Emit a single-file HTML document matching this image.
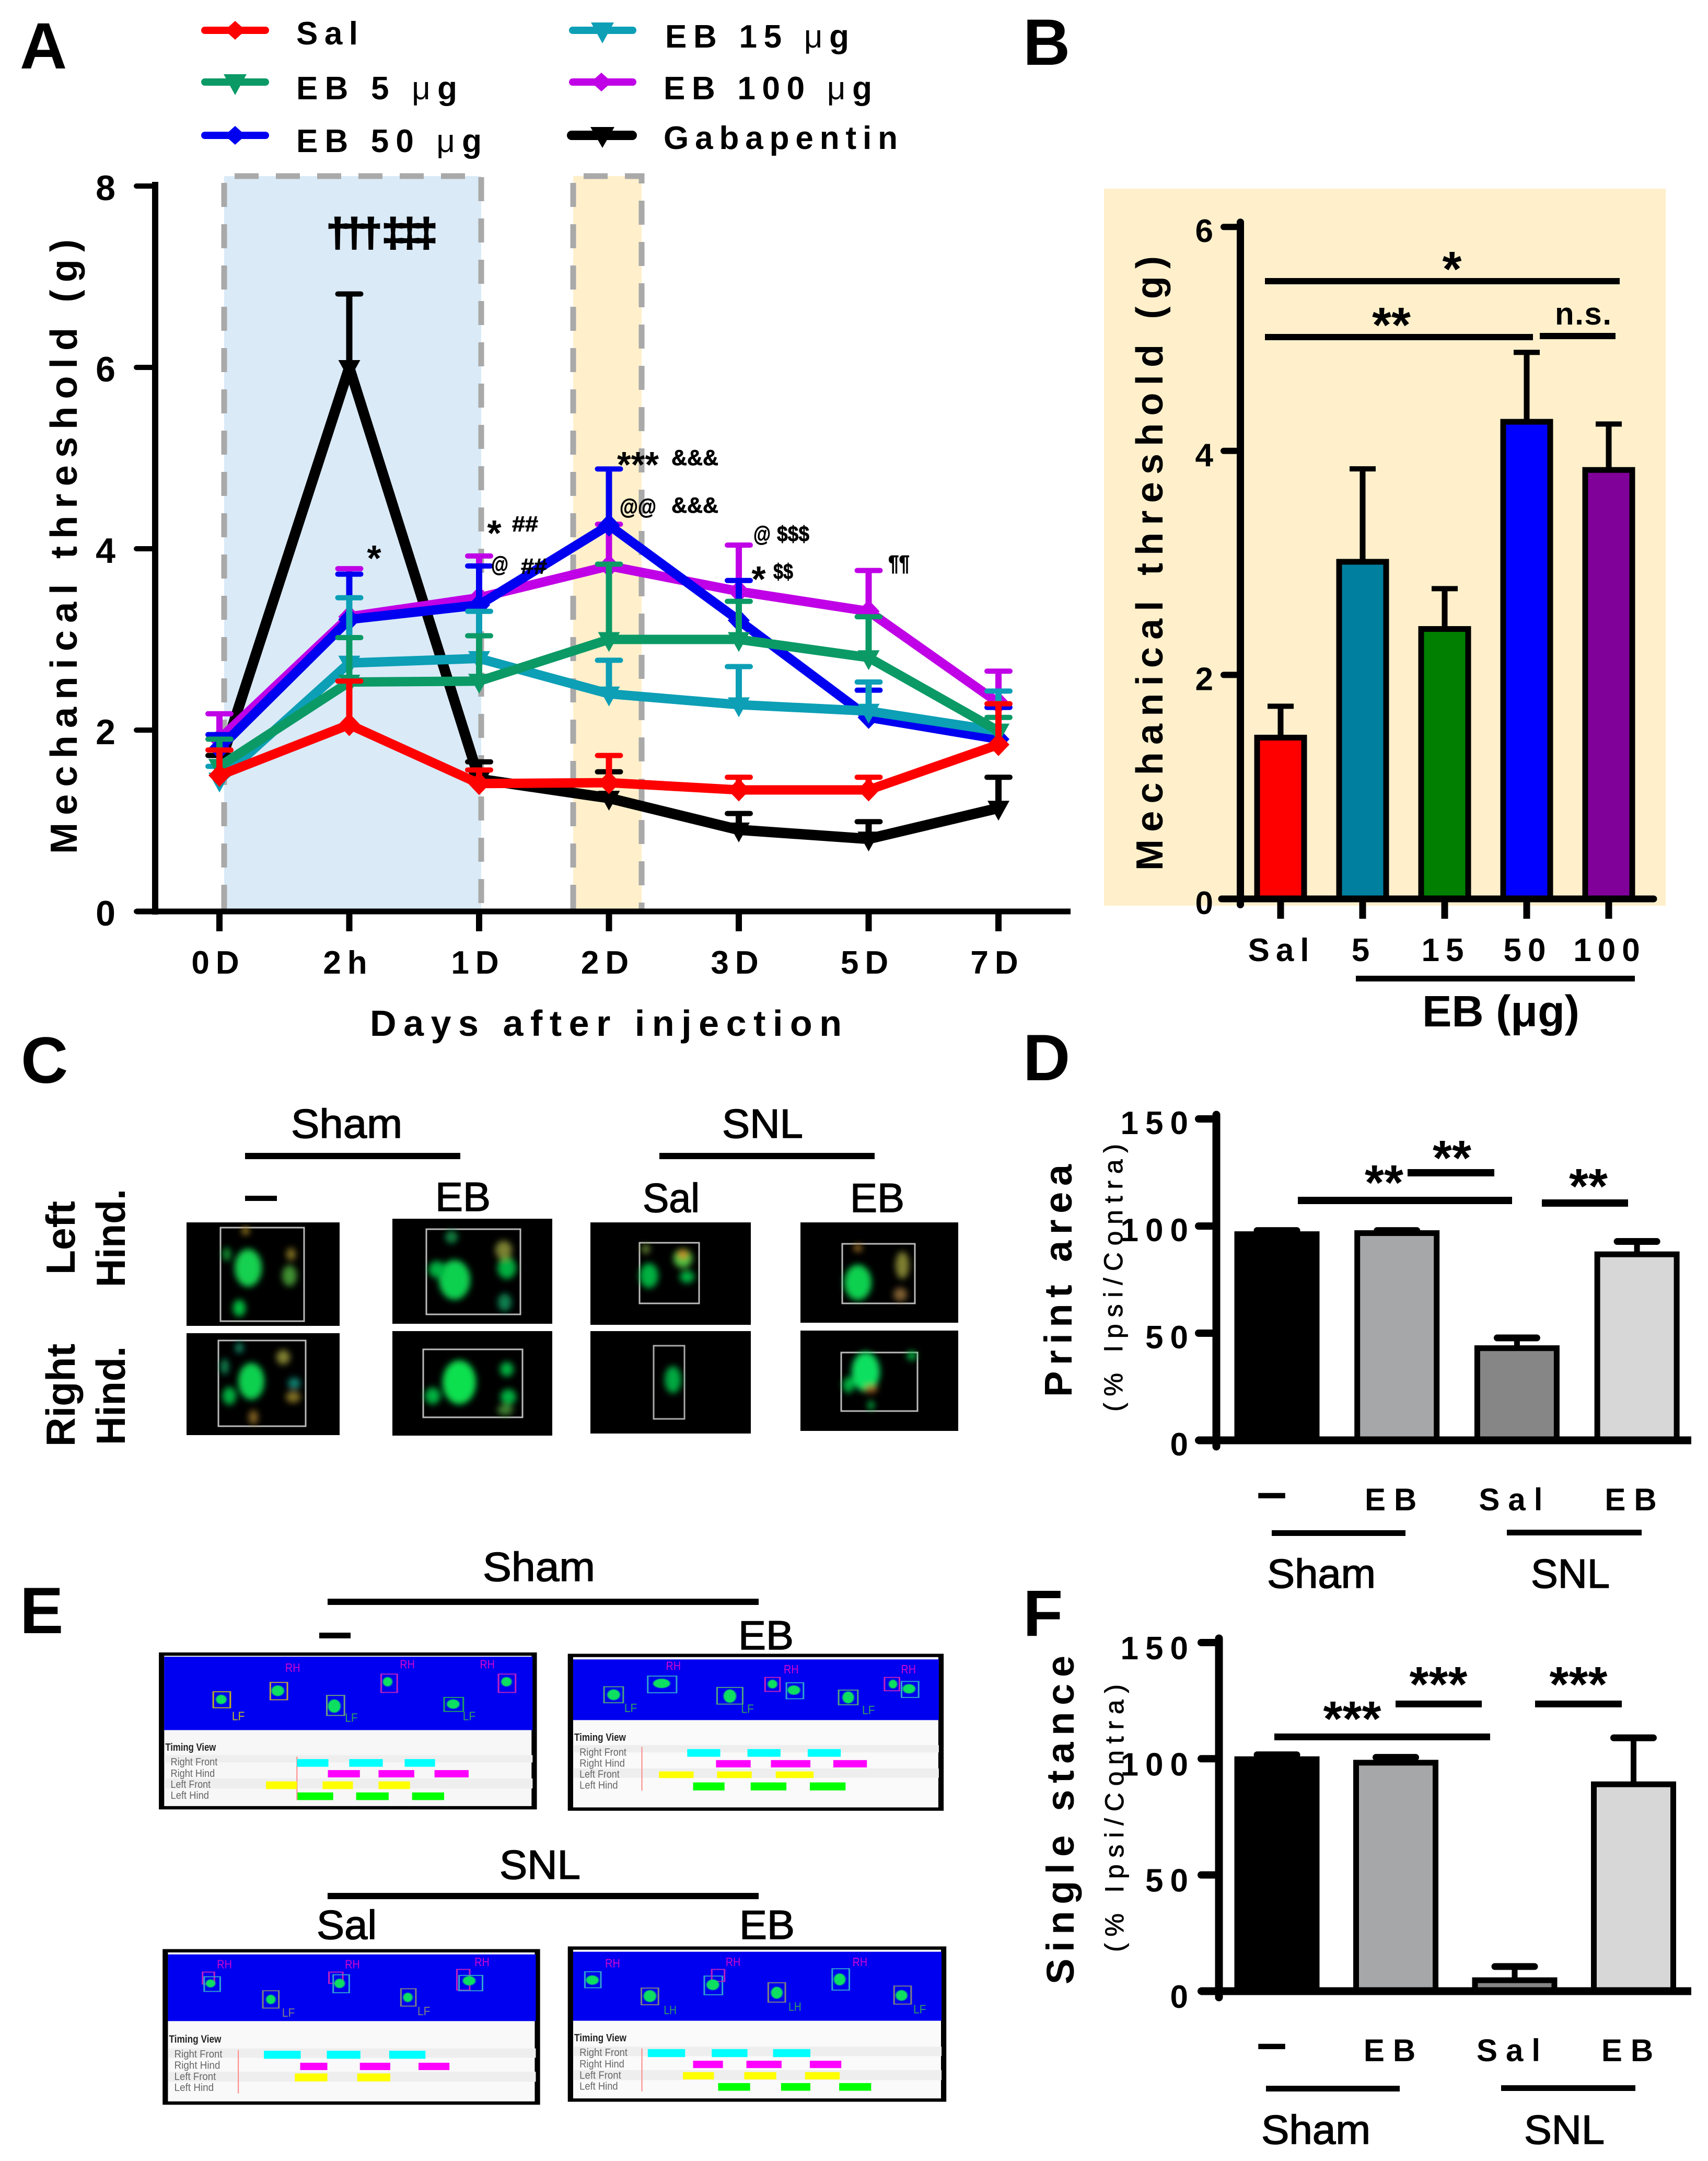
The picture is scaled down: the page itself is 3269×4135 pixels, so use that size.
<!DOCTYPE html>
<html lang="en">
<head>
<meta charset="utf-8">
<title>Mechanical threshold and gait analysis figure</title>
<style>
html,body{margin:0;padding:0;background:#fff;}
svg{display:block;font-family:"Liberation Sans",sans-serif;}
text{fill:#000;}
.b{font-weight:bold;}
.letter{font-size:125px;font-weight:bold;}
.group-label{font-size:78px;stroke:#000;stroke-width:1.5px;}
.leg{font-size:62px;font-weight:bold;}
.anno{font-size:42px;font-weight:bold;stroke:#000;stroke-width:0.8px;}
.star{font-size:70px;font-weight:bold;}
.sig-star{font-size:95px;font-weight:bold;}
.sub{stroke:#000;stroke-width:0.8px;}
.dagger{stroke:#000;stroke-width:3px;}
.tl{font-size:32px;fill:#666;}
.foot{font-size:36px;}
</style>
</head>
<body>
<svg id="figure" xmlns="http://www.w3.org/2000/svg" width="3269" height="4135" viewBox="0 0 3269 4135">
<defs>
<filter id="soft" x="-60%" y="-60%" width="220%" height="220%"><feGaussianBlur stdDeviation="6"/></filter>
<filter id="soft2" x="-60%" y="-60%" width="220%" height="220%"><feGaussianBlur stdDeviation="1.2"/></filter>
</defs>
<rect width="3269" height="4135" fill="#fff"/>

<text class="letter" x="38" y="131">A</text>
<text class="letter" x="1958" y="124">B</text>
<text class="letter" x="40" y="2072">C</text>
<text class="letter" x="1958" y="2067">D</text>
<text class="letter" x="38" y="3125">E</text>
<text class="letter" x="1958" y="3130">F</text>

<!-- Panel A background bands -->
<g>
<rect x="429" y="337" width="492" height="1402" fill="#daeaf7"/>
<rect x="1097" y="337" width="131" height="1402" fill="#fff0cb"/>
<g fill="none" stroke="#a9a9a9" stroke-width="11" stroke-dasharray="46 33">
<path d="M429 1739V337H921V1739"/>
<path d="M1097 1739V337H1228V1739"/>
</g>
</g>

<g id="chart-a"></g>

<!-- Panel A annotations -->
<g>
<text x="625" y="471" font-size="76" class="b dagger" textLength="212" lengthAdjust="spacing">††† ‡‡‡</text>
<text class="star" x="716" y="1092" text-anchor="middle">*</text>
<text class="star" x="946" y="1044" text-anchor="middle">*</text>
<text class="anno" x="980" y="1017" textLength="50" lengthAdjust="spacingAndGlyphs">##</text>
<text class="anno" x="940" y="1094" textLength="33" lengthAdjust="spacingAndGlyphs">@</text>
<text class="anno" x="997" y="1098" textLength="50" lengthAdjust="spacingAndGlyphs">##</text>
<text class="star" x="1181" y="913" textLength="80" lengthAdjust="spacingAndGlyphs">***</text>
<text class="anno" x="1285" y="890" textLength="90" lengthAdjust="spacingAndGlyphs">&amp;&amp;&amp;</text>
<text class="anno" x="1186" y="984" textLength="70" lengthAdjust="spacingAndGlyphs">@@</text>
<text class="anno" x="1285" y="981" textLength="90" lengthAdjust="spacingAndGlyphs">&amp;&amp;&amp;</text>
<text class="anno" x="1442" y="1036" textLength="33" lengthAdjust="spacingAndGlyphs">@</text>
<text class="anno" x="1487" y="1036" textLength="62" lengthAdjust="spacingAndGlyphs">$$$</text>
<text class="star" x="1452" y="1132" text-anchor="middle">*</text>
<text class="anno" x="1480" y="1108" textLength="38" lengthAdjust="spacingAndGlyphs">$$</text>
<text class="anno" x="1700" y="1092" textLength="41" lengthAdjust="spacingAndGlyphs">¶¶</text>
</g>

<!-- Legend -->
<g>
<g>
<line x1="392" x2="508" y1="58" y2="58" stroke="#f00" stroke-width="14" stroke-linecap="round"/>
<path d="M450 40L470 58L450 76L430 58Z" fill="#f00"/>
<text class="leg" x="567" y="85" textLength="118">Sal</text>
</g>
<g>
<line x1="392" x2="508" y1="157" y2="157" stroke="#0b9a66" stroke-width="14" stroke-linecap="round"/>
<path d="M428 142H472L450 182Z" fill="#0b9a66"/>
<text class="leg" x="567" y="190" textLength="308">EB  5 <tspan font-weight="normal">μ</tspan>g</text>
</g>
<g>
<line x1="392" x2="508" y1="259" y2="259" stroke="#0000f0" stroke-width="14" stroke-linecap="round"/>
<path d="M450 241L470 259L450 277L430 259Z" fill="#0000f0"/>
<text class="leg" x="567" y="291" textLength="355">EB  50 <tspan font-weight="normal">μ</tspan>g</text>
</g>
<g>
<line x1="1096" x2="1211" y1="58" y2="58" stroke="#0c9fb6" stroke-width="14" stroke-linecap="round"/>
<path d="M1131 43H1175L1153 83Z" fill="#0c9fb6"/>
<text class="leg" x="1273" y="91" textLength="352">EB  15 <tspan font-weight="normal">μ</tspan>g</text>
</g>
<g>
<line x1="1096" x2="1211" y1="157" y2="157" stroke="#c000e6" stroke-width="14" stroke-linecap="round"/>
<path d="M1151 139L1171 157L1151 175L1131 157Z" fill="#c000e6"/>
<text class="leg" x="1270" y="190" textLength="399">EB  100 <tspan font-weight="normal">μ</tspan>g</text>
</g>
<g>
<line x1="1094" x2="1210" y1="259" y2="259" stroke="#000" stroke-width="18" stroke-linecap="round"/>
<path d="M1130 243H1176L1153 283Z" fill="#000"/>
<text class="leg" x="1270" y="285" textLength="448">Gabapentin</text>
</g>
</g>

<!-- Panel B background and annotations -->
<rect x="2113" y="361" width="1075" height="1372" fill="#fff0cb"/>
<g id="chart-b"></g>
<g>
<rect x="2421" y="532" width="679" height="12"/>
<text class="sig-star" x="2779" y="547" text-anchor="middle">*</text>
<rect x="2421" y="639" width="513" height="12"/>
<text class="sig-star" x="2663" y="654" text-anchor="middle">**</text>
<rect x="2947" y="637" width="145" height="12"/>
<text x="2976" y="621" font-size="60" class="b" textLength="108">n.s.</text>
<rect x="2595" y="1867" width="534" height="11"/>
<text x="2722" y="1964" font-size="84" class="b" textLength="301" lengthAdjust="spacingAndGlyphs">EB (μg)</text>
</g>

<!-- Panel C -->
<g>
<text class="group-label" x="557" y="2177" textLength="213" lengthAdjust="spacingAndGlyphs">Sham</text>
<text class="group-label" x="1382" y="2177" textLength="155" lengthAdjust="spacingAndGlyphs">SNL</text>
<rect x="469" y="2206" width="412" height="12"/>
<rect x="1262" y="2206" width="412" height="12"/>
<rect x="469" y="2288" width="61" height="10"/>
<text class="group-label" x="833" y="2317" textLength="106" lengthAdjust="spacingAndGlyphs">EB</text>
<text class="group-label" x="1230" y="2319" textLength="109" lengthAdjust="spacingAndGlyphs">Sal</text>
<text class="group-label" x="1627" y="2319" textLength="104" lengthAdjust="spacingAndGlyphs">EB</text>
<text transform="translate(143,2439) rotate(-90)" font-size="78" class="b" textLength="141" lengthAdjust="spacingAndGlyphs">Left</text>
<text transform="translate(239,2463) rotate(-90)" font-size="78" class="b" textLength="188" lengthAdjust="spacingAndGlyphs">Hind.</text>
<text transform="translate(143,2768) rotate(-90)" font-size="78" class="b" textLength="197" lengthAdjust="spacingAndGlyphs">Right</text>
<text transform="translate(239,2765) rotate(-90)" font-size="78" class="b" textLength="189" lengthAdjust="spacingAndGlyphs">Hind.</text>

<g>
<rect x="357" y="2339" width="293" height="198"/>
<rect x="422" y="2349" width="160" height="179" fill="none" stroke="#bbb" stroke-width="3"/>
<g filter="url(#soft)" fill="#00c040">
<ellipse cx="475" cy="2426" rx="26" ry="36" fill="#12d050"/><ellipse cx="458" cy="2503" rx="12" ry="16"/><ellipse cx="554" cy="2441" rx="14" ry="20" fill="#409030"/><ellipse cx="557" cy="2400" rx="9" ry="12" fill="#807020"/><ellipse cx="434" cy="2400" rx="8" ry="13" fill="#109030"/><ellipse cx="470" cy="2355" rx="7" ry="8" fill="#a08020"/>
</g></g>
<g>
<rect x="751" y="2332" width="306" height="201"/>
<rect x="816" y="2352" width="180" height="163" fill="none" stroke="#bbb" stroke-width="3"/>
<g filter="url(#soft)" fill="#00b040">
<ellipse cx="870" cy="2449" rx="30" ry="38" fill="#10d050"/><ellipse cx="836" cy="2429" rx="16" ry="16"/><ellipse cx="970" cy="2426" rx="18" ry="21"/><ellipse cx="964" cy="2392" rx="16" ry="18" fill="#7a8030"/><ellipse cx="966" cy="2492" rx="13" ry="17" fill="#108050"/><ellipse cx="864" cy="2367" rx="12" ry="12" fill="#108040"/>
</g></g>
<g>
<rect x="1130" y="2339" width="307" height="196"/>
<rect x="1224" y="2378" width="114" height="116" fill="none" stroke="#bbb" stroke-width="3"/>
<g filter="url(#soft)" fill="#00b040">
<ellipse cx="1242" cy="2441" rx="18" ry="24"/><ellipse cx="1307" cy="2408" rx="18" ry="18" fill="#50c040"/><ellipse cx="1307" cy="2400" rx="9" ry="8" fill="#d08020"/><ellipse cx="1315" cy="2443" rx="14" ry="12"/><ellipse cx="1236" cy="2390" rx="8" ry="9" fill="#608030"/>
</g></g>
<g>
<rect x="1532" y="2339" width="302" height="192"/>
<rect x="1612" y="2380" width="139" height="114" fill="none" stroke="#bbb" stroke-width="3"/>
<g filter="url(#soft)" fill="#00b040">
<ellipse cx="1642" cy="2454" rx="26" ry="34" fill="#10d050"/><ellipse cx="1727" cy="2421" rx="13" ry="26" fill="#808030"/><ellipse cx="1723" cy="2477" rx="13" ry="13" fill="#806030"/><ellipse cx="1642" cy="2388" rx="8" ry="7" fill="#a07020"/>
</g></g>
<g>
<rect x="357" y="2551" width="293" height="195"/>
<rect x="418" y="2565" width="167" height="164" fill="none" stroke="#bbb" stroke-width="3"/>
<g filter="url(#soft)" fill="#00b040">
<ellipse cx="481" cy="2643" rx="25" ry="35" fill="#10d050"/><ellipse cx="439" cy="2671" rx="13" ry="17"/><ellipse cx="542" cy="2597" rx="13" ry="14" fill="#808030"/><ellipse cx="561" cy="2673" rx="14" ry="11" fill="#807020"/><ellipse cx="563" cy="2647" rx="12" ry="11" fill="#108070"/><ellipse cx="485" cy="2712" rx="9" ry="14" fill="#806020"/><ellipse cx="458" cy="2579" rx="8" ry="10" fill="#108060"/><ellipse cx="430" cy="2615" rx="8" ry="15" fill="#108050"/>
</g></g>
<g>
<rect x="751" y="2547" width="306" height="200"/>
<rect x="810" y="2582" width="190" height="130" fill="none" stroke="#bbb" stroke-width="3"/>
<g filter="url(#soft)" fill="#00b040">
<ellipse cx="879" cy="2645" rx="32" ry="42" fill="#10e050"/><ellipse cx="828" cy="2671" rx="15" ry="16"/><ellipse cx="970" cy="2620" rx="13" ry="14"/><ellipse cx="973" cy="2673" rx="15" ry="15"/><ellipse cx="967" cy="2698" rx="15" ry="10" fill="#408030"/>
</g></g>
<g>
<rect x="1130" y="2547" width="307" height="196"/>
<rect x="1251" y="2575" width="59" height="140" fill="none" stroke="#aaa" stroke-width="3"/>
<g filter="url(#soft)" fill="#00a840">
<ellipse cx="1288" cy="2640" rx="16" ry="26"/>
</g></g>
<g>
<rect x="1532" y="2546" width="302" height="192"/>
<rect x="1610" y="2588" width="146" height="112" fill="none" stroke="#bbb" stroke-width="3"/>
<g filter="url(#soft)" fill="#00b040">
<ellipse cx="1657" cy="2625" rx="27" ry="38" fill="#10e060"/><ellipse cx="1624" cy="2650" rx="11" ry="15"/><ellipse cx="1667" cy="2658" rx="12" ry="7" fill="#a06020"/><ellipse cx="1667" cy="2689" rx="6" ry="9"/><ellipse cx="1745" cy="2594" rx="9" ry="9"/>
</g></g>
</g>

<g id="chart-d"></g>
<g>
<text transform="translate(2051,2673) rotate(-90)" font-size="74" class="b" textLength="445">Print area</text>
<text class="sub" transform="translate(2148,2701) rotate(-90)" font-size="50" textLength="512">(% Ipsi/Contra)</text>
<rect x="2484" y="2290" width="410" height="14"/>
<rect x="2694" y="2237" width="166" height="14"/>
<rect x="2951" y="2295" width="165" height="14"/>
<text class="sig-star" x="2649" y="2295" text-anchor="middle">**</text>
<text class="sig-star" x="2779" y="2248" text-anchor="middle">**</text>
<text class="sig-star" x="3040" y="2302" text-anchor="middle">**</text>
<rect x="2434" y="2928" width="256" height="11"/>
<rect x="2884" y="2927" width="258" height="11"/>
<text class="group-label" x="2425" y="3038" textLength="208" lengthAdjust="spacingAndGlyphs">Sham</text>
<text class="group-label" x="2930" y="3038" textLength="151" lengthAdjust="spacingAndGlyphs">SNL</text>
</g>

<!-- Panel E -->
<g>
<text class="group-label" x="924" y="3025" textLength="215" lengthAdjust="spacingAndGlyphs">Sham</text>
<rect x="627" y="3059" width="825" height="12"/>
<rect x="611" y="3124" width="60" height="11"/>
<text class="group-label" x="1413" y="3156" textLength="106" lengthAdjust="spacingAndGlyphs">EB</text>
<text class="group-label" x="956" y="3595" textLength="155" lengthAdjust="spacingAndGlyphs">SNL</text>
<rect x="627" y="3622" width="825" height="12"/>
<text class="group-label" x="606" y="3710" textLength="115" lengthAdjust="spacingAndGlyphs">Sal</text>
<text class="group-label" x="1415" y="3710" textLength="106" lengthAdjust="spacingAndGlyphs">EB</text>

<g transform="translate(250,3100) scale(1.0204,0.6378)">
<!-- frame 1 -->
<g>
<rect x="58" y="102" width="699" height="461" fill="#f7f7f7" stroke="#000" stroke-width="10"/>
<rect x="63" y="110" width="691" height="220" fill="#0000f0"/>
<rect x="63" y="405" width="691" height="22" fill="#eee"/><rect x="63" y="475" width="691" height="30" fill="#eee"/>
<g fill="none" stroke-width="3"><rect x="155" y="215" width="32" height="48" stroke="#c0b020"/><rect x="262" y="187" width="32" height="52" stroke="#c0a040"/><rect x="368" y="226" width="33" height="60" stroke="#70a080"/><rect x="470" y="162" width="30" height="55" stroke="#c020c0"/><rect x="588" y="232" width="36" height="42" stroke="#20a060"/><rect x="690" y="162" width="32" height="55" stroke="#c020c0"/></g>
<g fill="#10e060" filter="url(#soft2)"><ellipse cx="170" cy="238" rx="10" ry="14"/><ellipse cx="276" cy="212" rx="12" ry="16"/><ellipse cx="382" cy="258" rx="12" ry="20"/><ellipse cx="482" cy="185" rx="9" ry="14"/><ellipse cx="605" cy="252" rx="12" ry="14"/><ellipse cx="705" cy="185" rx="10" ry="14"/></g>
<text class="foot" x="290" y="155" textLength="28" lengthAdjust="spacingAndGlyphs" style="fill:#d000d0">RH</text><text class="foot" x="505" y="145" textLength="28" lengthAdjust="spacingAndGlyphs" style="fill:#d000d0">RH</text><text class="foot" x="655" y="145" textLength="28" lengthAdjust="spacingAndGlyphs" style="fill:#d000d0">RH</text>
<text class="foot" x="190" y="300" textLength="24" lengthAdjust="spacingAndGlyphs" style="fill:#c0c020">LF</text><text class="foot" x="402" y="305" textLength="24" lengthAdjust="spacingAndGlyphs" style="fill:#30a060">LF</text><text class="foot" x="623" y="300" textLength="24" lengthAdjust="spacingAndGlyphs" style="fill:#30a060">LF</text>
<text class="tl" x="65" y="392" textLength="95" lengthAdjust="spacingAndGlyphs" style="fill:#222;font-weight:bold">Timing View</text>
<text class="tl" x="75" y="436" textLength="88" lengthAdjust="spacingAndGlyphs">Right Front</text>
<text class="tl" x="75" y="470" textLength="83" lengthAdjust="spacingAndGlyphs">Right Hind</text>
<text class="tl" x="75" y="503" textLength="75" lengthAdjust="spacingAndGlyphs">Left Front</text>
<text class="tl" x="75" y="536" textLength="72" lengthAdjust="spacingAndGlyphs">Left Hind</text>
<line x1="312" x2="312" y1="410" y2="540" stroke="#f88" stroke-width="2"/>
<g fill="#00ffff"><rect x="312" y="417" width="59" height="23"/><rect x="410" y="417" width="63" height="23"/><rect x="514" y="417" width="57" height="23"/></g>
<g fill="#ff00ff"><rect x="370" y="450" width="60" height="22"/><rect x="465" y="450" width="67" height="22"/><rect x="570" y="450" width="64" height="22"/></g>
<g fill="#ffff00"><rect x="254" y="484" width="58" height="23"/><rect x="360" y="484" width="57" height="23"/><rect x="465" y="484" width="59" height="23"/></g>
<g fill="#00ff00"><rect x="313" y="517" width="67" height="23"/><rect x="423" y="517" width="61" height="23"/><rect x="528" y="517" width="60" height="23"/></g>
</g>
<!-- frame 2 -->
<g>
<rect x="825" y="106" width="695" height="461" fill="#fafafa" stroke="#000" stroke-width="10"/>
<rect x="830" y="118" width="686" height="182" fill="#0000f0"/>
<rect x="830" y="375" width="686" height="22" fill="#eee"/><rect x="830" y="445" width="686" height="28" fill="#eee"/>
<g fill="none" stroke-width="3"><rect x="888" y="200" width="36" height="48" stroke="#50a080"/><rect x="970" y="168" width="54" height="50" stroke="#30a0d0"/><rect x="1100" y="202" width="48" height="50" stroke="#50a080"/><rect x="1190" y="172" width="28" height="42" stroke="#c020c0"/><rect x="1230" y="188" width="32" height="48" stroke="#30a0d0"/><rect x="1328" y="210" width="36" height="44" stroke="#50a080"/><rect x="1414" y="172" width="28" height="40" stroke="#c020c0"/><rect x="1446" y="184" width="32" height="48" stroke="#30a0d0"/></g>
<g fill="#10e060" filter="url(#soft2)"><ellipse cx="906" cy="224" rx="12" ry="16"/><ellipse cx="996" cy="190" rx="16" ry="14"/><ellipse cx="1124" cy="228" rx="12" ry="20"/><ellipse cx="1204" cy="192" rx="9" ry="13"/><ellipse cx="1244" cy="210" rx="12" ry="14"/><ellipse cx="1346" cy="232" rx="11" ry="18"/><ellipse cx="1430" cy="192" rx="8" ry="13"/><ellipse cx="1460" cy="206" rx="12" ry="14"/></g>
<text class="foot" x="1004" y="150" textLength="28" lengthAdjust="spacingAndGlyphs" style="fill:#d000d0">RH</text><text class="foot" x="1225" y="160" textLength="28" lengthAdjust="spacingAndGlyphs" style="fill:#d000d0">RH</text><text class="foot" x="1445" y="160" textLength="28" lengthAdjust="spacingAndGlyphs" style="fill:#d000d0">RH</text>
<text class="foot" x="926" y="276" textLength="24" lengthAdjust="spacingAndGlyphs" style="fill:#30a060">LF</text><text class="foot" x="1145" y="278" textLength="24" lengthAdjust="spacingAndGlyphs" style="fill:#30a060">LF</text><text class="foot" x="1372" y="282" textLength="24" lengthAdjust="spacingAndGlyphs" style="fill:#30a060">LF</text>
<text class="tl" x="832" y="362" textLength="97" lengthAdjust="spacingAndGlyphs" style="fill:#222;font-weight:bold">Timing View</text>
<text class="tl" x="842" y="407" textLength="88" lengthAdjust="spacingAndGlyphs">Right Front</text>
<text class="tl" x="842" y="440" textLength="85" lengthAdjust="spacingAndGlyphs">Right Hind</text>
<text class="tl" x="842" y="473" textLength="75" lengthAdjust="spacingAndGlyphs">Left Front</text>
<text class="tl" x="842" y="506" textLength="72" lengthAdjust="spacingAndGlyphs">Left Hind</text>
<line x1="959" x2="959" y1="380" y2="512" stroke="#f88" stroke-width="2"/>
<g fill="#00ffff"><rect x="1044" y="387" width="62" height="23"/><rect x="1157" y="387" width="62" height="23"/><rect x="1270" y="387" width="62" height="23"/></g>
<g fill="#ff00ff"><rect x="1098" y="420" width="65" height="22"/><rect x="1201" y="420" width="74" height="22"/><rect x="1318" y="420" width="63" height="22"/></g>
<g fill="#ffff00"><rect x="991" y="454" width="65" height="20"/><rect x="1100" y="454" width="65" height="20"/><rect x="1210" y="454" width="71" height="20"/></g>
<g fill="#00ff00"><rect x="1055" y="487" width="59" height="24"/><rect x="1163" y="487" width="67" height="24"/><rect x="1274" y="487" width="67" height="24"/></g>
</g>
<!-- frame 3 -->
<g>
<rect x="65" y="992" width="698" height="457" fill="#f9f9f9" stroke="#000" stroke-width="10"/>
<rect x="70" y="1003" width="690" height="200" fill="#0000f0"/>
<rect x="70" y="1285" width="690" height="28" fill="#eee"/><rect x="70" y="1355" width="690" height="30" fill="#eee"/>
<g fill="none" stroke-width="3"><rect x="135" y="1056" width="22" height="36" stroke="#c020c0"/><rect x="138" y="1070" width="30" height="44" stroke="#30a0d0"/><rect x="248" y="1112" width="30" height="52" stroke="#808080"/><rect x="372" y="1056" width="26" height="34" stroke="#c020c0"/><rect x="380" y="1064" width="30" height="54" stroke="#30a0d0"/><rect x="507" y="1106" width="28" height="52" stroke="#808080"/><rect x="612" y="1048" width="24" height="62" stroke="#c020c0"/><rect x="616" y="1066" width="44" height="46" stroke="#30a0d0"/></g>
<g fill="#10e060" filter="url(#soft2)"><ellipse cx="150" cy="1090" rx="9" ry="12"/><ellipse cx="263" cy="1138" rx="9" ry="14"/><ellipse cx="392" cy="1090" rx="10" ry="14"/><ellipse cx="520" cy="1132" rx="9" ry="14"/><ellipse cx="635" cy="1082" rx="12" ry="14"/></g>
<text class="foot" x="162" y="1045" textLength="28" lengthAdjust="spacingAndGlyphs" style="fill:#d000d0">RH</text><text class="foot" x="402" y="1045" textLength="28" lengthAdjust="spacingAndGlyphs" style="fill:#d000d0">RH</text><text class="foot" x="645" y="1038" textLength="28" lengthAdjust="spacingAndGlyphs" style="fill:#d000d0">RH</text>
<text class="foot" x="284" y="1190" textLength="24" lengthAdjust="spacingAndGlyphs" style="fill:#808080">LF</text><text class="foot" x="538" y="1185" textLength="24" lengthAdjust="spacingAndGlyphs" style="fill:#808080">LF</text>
<text class="tl" x="72" y="1268" textLength="98" lengthAdjust="spacingAndGlyphs" style="fill:#222;font-weight:bold">Timing View</text>
<text class="tl" x="82" y="1312" textLength="90" lengthAdjust="spacingAndGlyphs">Right Front</text>
<text class="tl" x="82" y="1346" textLength="86" lengthAdjust="spacingAndGlyphs">Right Hind</text>
<text class="tl" x="82" y="1380" textLength="78" lengthAdjust="spacingAndGlyphs">Left Front</text>
<text class="tl" x="82" y="1413" textLength="74" lengthAdjust="spacingAndGlyphs">Left Hind</text>
<line x1="202" x2="202" y1="1290" y2="1420" stroke="#f88" stroke-width="2"/>
<g fill="#00ffff"><rect x="250" y="1292" width="69" height="24"/><rect x="368" y="1292" width="63" height="24"/><rect x="485" y="1292" width="68" height="24"/></g>
<g fill="#ff00ff"><rect x="318" y="1328" width="51" height="22"/><rect x="430" y="1328" width="57" height="22"/><rect x="540" y="1328" width="58" height="22"/></g>
<g fill="#ffff00"><rect x="308" y="1360" width="61" height="24"/><rect x="425" y="1360" width="62" height="24"/></g>
</g>
<!-- frame 4 -->
<g>
<rect x="825" y="984" width="700" height="456" fill="#fafafa" stroke="#000" stroke-width="10"/>
<rect x="830" y="995" width="691" height="207" fill="#0000f0"/>
<rect x="830" y="1280" width="691" height="28" fill="#eee"/><rect x="830" y="1350" width="691" height="30" fill="#eee"/>
<g fill="none" stroke-width="3"><rect x="852" y="1055" width="30" height="48" stroke="#30a0d0"/><rect x="958" y="1104" width="32" height="50" stroke="#808080"/><rect x="1076" y="1068" width="34" height="56" stroke="#30a0d0"/><rect x="1090" y="1048" width="24" height="36" stroke="#c020c0"/><rect x="1196" y="1088" width="32" height="58" stroke="#808080"/><rect x="1316" y="1046" width="32" height="64" stroke="#30a0d0"/><rect x="1432" y="1098" width="32" height="54" stroke="#808080"/></g>
<g fill="#10e060" filter="url(#soft2)"><ellipse cx="866" cy="1080" rx="12" ry="14"/><ellipse cx="974" cy="1128" rx="12" ry="18"/><ellipse cx="1092" cy="1094" rx="12" ry="16"/><ellipse cx="1212" cy="1118" rx="11" ry="18"/><ellipse cx="1330" cy="1078" rx="11" ry="18"/><ellipse cx="1446" cy="1126" rx="11" ry="16"/></g>
<text class="foot" x="890" y="1042" textLength="28" lengthAdjust="spacingAndGlyphs" style="fill:#d000d0">RH</text><text class="foot" x="1116" y="1038" textLength="28" lengthAdjust="spacingAndGlyphs" style="fill:#d000d0">RH</text><text class="foot" x="1354" y="1038" textLength="28" lengthAdjust="spacingAndGlyphs" style="fill:#d000d0">RH</text>
<text class="foot" x="1000" y="1182" textLength="24" lengthAdjust="spacingAndGlyphs" style="fill:#30a060">LH</text><text class="foot" x="1234" y="1172" textLength="24" lengthAdjust="spacingAndGlyphs" style="fill:#30a060">LH</text><text class="foot" x="1468" y="1180" textLength="24" lengthAdjust="spacingAndGlyphs" style="fill:#30a060">LF</text>
<text class="tl" x="832" y="1264" textLength="98" lengthAdjust="spacingAndGlyphs" style="fill:#222;font-weight:bold">Timing View</text>
<text class="tl" x="842" y="1308" textLength="90" lengthAdjust="spacingAndGlyphs">Right Front</text>
<text class="tl" x="842" y="1342" textLength="84" lengthAdjust="spacingAndGlyphs">Right Hind</text>
<text class="tl" x="842" y="1376" textLength="78" lengthAdjust="spacingAndGlyphs">Left Front</text>
<text class="tl" x="842" y="1409" textLength="72" lengthAdjust="spacingAndGlyphs">Left Hind</text>
<line x1="959" x2="959" y1="1285" y2="1414" stroke="#f88" stroke-width="2"/>
<g fill="#00ffff"><rect x="970" y="1287" width="70" height="24"/><rect x="1090" y="1287" width="67" height="24"/><rect x="1205" y="1287" width="70" height="24"/></g>
<g fill="#ff00ff"><rect x="1055" y="1322" width="56" height="22"/><rect x="1155" y="1322" width="66" height="22"/><rect x="1274" y="1322" width="59" height="22"/></g>
<g fill="#ffff00"><rect x="1036" y="1356" width="58" height="22"/><rect x="1151" y="1356" width="60" height="22"/><rect x="1265" y="1356" width="65" height="22"/></g>
<g fill="#00ff00"><rect x="1102" y="1389" width="60" height="23"/><rect x="1220" y="1389" width="55" height="23"/><rect x="1329" y="1389" width="60" height="23"/></g>
</g>
</g>
</g>

<g id="chart-f"></g>
<g>
<text transform="translate(2055,3797) rotate(-90)" font-size="74" class="b" textLength="629">Single stance</text>
<text class="sub" transform="translate(2150,3735) rotate(-90)" font-size="50" textLength="512">(% Ipsi/Contra)</text>
<rect x="2439" y="3317" width="413" height="13"/>
<rect x="2671" y="3254" width="165" height="13"/>
<rect x="2938" y="3254" width="166" height="13"/>
<text class="sig-star" x="2588" y="3321" text-anchor="middle">***</text>
<text class="sig-star" x="2753" y="3255" text-anchor="middle">***</text>
<text class="sig-star" x="3021" y="3255" text-anchor="middle">***</text>
<rect x="2423" y="3991" width="256" height="11"/>
<rect x="2873" y="3990" width="257" height="11"/>
<text class="group-label" x="2414" y="4102" textLength="209" lengthAdjust="spacingAndGlyphs">Sham</text>
<text class="group-label" x="2917" y="4102" textLength="154" lengthAdjust="spacingAndGlyphs">SNL</text>
</g>
</svg>

<script>
// ---- Panel A data ----
const timeLabels = ['0D', '2h', '1D', '2D', '3D', '5D', '7D'];
const aYTicks = [0, 2, 4, 6, 8];
const gabaMeans = [1.6, 6.0, 1.46, 1.25, 0.9, 0.8, 1.14];
const gabaTops = [1.72, 6.81, 1.65, 1.54, 1.08, 0.99, 1.48];
const eb100Means = [1.9, 3.25, 3.46, 3.81, 3.53, 3.31, 2.3];
const eb100Tops = [2.18, 3.78, 3.92, 4.27, 4.04, 3.76, 2.65];
const eb50Means = [1.8, 3.22, 3.38, 4.26, 3.21, 2.14, 1.9];
const eb50Tops = [1.95, 3.72, 3.81, 4.88, 3.65, 2.44, 2.25];
const eb15Means = [1.45, 2.74, 2.79, 2.4, 2.28, 2.21, 1.99];
const eb15Tops = [1.6, 3.46, 3.31, 2.77, 2.7, 2.53, 2.43];
const eb5Means = [1.6, 2.53, 2.54, 3.0, 3.0, 2.8, 1.99];
const eb5Tops = [1.9, 3.02, 3.04, 3.83, 3.42, 3.25, 2.14];
const salMeans = [1.5, 2.06, 1.41, 1.42, 1.34, 1.34, 1.84];
const salTops = [1.78, 2.54, 1.56, 1.72, 1.48, 1.48, 2.29];

// ---- Panel B data ----
const bCategories = ['Sal', '5', '15', '50', '100'];
const bYTicks = [0, 2, 4, 6];
const bValues = [1.44, 3.01, 2.41, 4.26, 3.83];
const bTops = [1.72, 3.84, 2.77, 4.88, 4.24];
const bFills = ['#ff0000', '#007f9f', '#007f00', '#0000ff', '#80009a'];

// ---- Panel D data ----
const dCategories = ['–', 'EB', 'Sal', 'EB'];
const dYTicks = [0, 50, 100, 150];
const dValues = [96.2, 96.7, 43, 86.8];
const dTops = [97.9, 97.9, 47.8, 92.8];
const dFills = ['#000000', '#a6a7a9', '#868686', '#d7d7d7'];

// ---- Panel F data ----
const fCategories = ['–', 'EB', 'Sal', 'EB'];
const fYTicks = [0, 50, 100, 150];
const fValues = [99.8, 98.3, 4.7, 89];
const fTops = [101.7, 100.6, 10.6, 109];
const fFills = ['#000000', '#a6a7a9', '#868686', '#d7d7d7'];

const NS = 'http://www.w3.org/2000/svg';
function shape(parent, tag, attrs) {
  const node = document.createElementNS(NS, tag);
  for (const k in attrs) node.setAttribute(k, attrs[k]);
  parent.appendChild(node);
  return node;
}

// ---- Panel A ----
function xA(i) { return 420 + i * 248.5; }
function yA(v) { return 1744 - v * 173.5; }

function drawSeries(parent, key, means, tops, color, width, marker) {
  const g = shape(parent, 'g', {});
  
  
  means.forEach(function (m, i) {
    const stem = shape(g, 'line', { x1: xA(i), x2: xA(i), y1: yA(m), y2: yA(tops[i]), stroke: color, 'stroke-width': 12 });
    
    
    const cap = shape(g, 'line', { x1: xA(i) - 22, x2: xA(i) + 22, y1: yA(tops[i]), y2: yA(tops[i]), stroke: color, 'stroke-width': 10, 'stroke-linecap': 'round' });
    
    
  });
  const pts = means.map(function (m, i) { return xA(i) + ',' + yA(m); }).join(' ');
  const line = shape(g, 'polyline', { points: pts, fill: 'none', stroke: color, 'stroke-width': width, 'stroke-linejoin': 'miter' });
  
  
  means.forEach(function (m, i) {
    const x = xA(i), y = yA(m);
    const d = marker === 'diamond'
      ? 'M' + x + ' ' + (y - 22) + 'L' + (x + 21) + ' ' + y + 'L' + x + ' ' + (y + 22) + 'L' + (x - 21) + ' ' + y + 'Z'
      : 'M' + (x - 21) + ' ' + (y - 14) + 'H' + (x + 21) + 'L' + x + ' ' + (y + 24) + 'Z';
    const pt = shape(g, 'path', { d: d, fill: color });
    
    
  });
}

function drawChartA() {
  const root = document.getElementById('chart-a');
  const yAxis = shape(root, 'line', { x1: 297, x2: 297, y1: yA(8) - 8, y2: yA(0) + 6, stroke: '#000', 'stroke-width': 12 });
  
  
  aYTicks.forEach(function (t) {
    const tick = shape(root, 'line', { x1: 261, x2: 297, y1: yA(t), y2: yA(t), stroke: '#000', 'stroke-width': 10, 'stroke-linecap': 'round' });
    
    
    const lab = shape(root, 'text', { x: 221, y: yA(t) + 27, 'font-size': 68, 'font-weight': 'bold', 'text-anchor': 'end' });
    lab.textContent = t;
    
    
  });
  const xAxis = shape(root, 'line', { x1: 261, x2: 2049, y1: yA(0), y2: yA(0), stroke: '#000', 'stroke-width': 11 });
  
  
  timeLabels.forEach(function (l, i) {
    const tick = shape(root, 'line', { x1: xA(i), x2: xA(i), y1: yA(0), y2: yA(0) + 38, stroke: '#000', 'stroke-width': 12 });
    
    
    const lab = shape(root, 'text', { x: xA(i) - 2, y: 1863, 'font-size': 62, 'font-weight': 'bold', 'text-anchor': 'middle', 'letter-spacing': 12 });
    lab.textContent = l;
    
    
  });
  const xTitle = shape(root, 'text', { x: 708, y: 1982, 'font-size': 70, 'font-weight': 'bold', textLength: 903 });
  xTitle.textContent = 'Days after injection';
  
  
  const yTitle = shape(root, 'text', { transform: 'translate(147,1634) rotate(-90)', 'font-size': 72, 'font-weight': 'bold', textLength: 1176 });
  yTitle.textContent = 'Mechanical threshold (g)';
  
  

  drawSeries(root, 'gabapentin', gabaMeans, gabaTops, '#000000', 20, 'triangle');
  drawSeries(root, 'eb-100', eb100Means, eb100Tops, '#c000e6', 18, 'diamond');
  drawSeries(root, 'eb-50', eb50Means, eb50Tops, '#0000f0', 18, 'diamond');
  drawSeries(root, 'eb-15', eb15Means, eb15Tops, '#0c9fb6', 18, 'triangle');
  drawSeries(root, 'eb-5', eb5Means, eb5Tops, '#0b9a66', 18, 'triangle');
  drawSeries(root, 'sal', salMeans, salTops, '#ff0000', 18, 'diamond');
}

// ---- Panel B ----
function xB(i) { return 2451 + i * 157; }
function yB(v) { return 1720 - v * 214.3; }

function drawChartB() {
  const root = document.getElementById('chart-b');
  bCategories.forEach(function (c, i) {
    const stem = shape(root, 'line', { x1: xB(i), x2: xB(i), y1: yB(bValues[i]), y2: yB(bTops[i]), stroke: '#000', 'stroke-width': 11 });
    
    
    const cap = shape(root, 'line', { x1: xB(i) - 25, x2: xB(i) + 25, y1: yB(bTops[i]), y2: yB(bTops[i]), stroke: '#000', 'stroke-width': 10 });
    
    
    const bar = shape(root, 'rect', { x: xB(i) - 45, y: yB(bValues[i]), width: 90, height: yB(0) - yB(bValues[i]), fill: bFills[i], stroke: '#000', 'stroke-width': 11 });
    
    
    const tick = shape(root, 'line', { x1: xB(i), x2: xB(i), y1: yB(0), y2: yB(0) + 38, stroke: '#000', 'stroke-width': 13 });
    
    
    const lab = shape(root, 'text', { x: xB(i) + 2, y: 1839, 'font-size': 62, 'font-weight': 'bold', 'text-anchor': 'middle', 'letter-spacing': 12 });
    lab.textContent = c;
    
    
  });
  const xAxis = shape(root, 'line', { x1: 2338, x2: 3165, y1: yB(0), y2: yB(0), stroke: '#000', 'stroke-width': 13, 'stroke-linecap': 'round' });
  
  
  const yAxis = shape(root, 'line', { x1: 2374, x2: 2374, y1: yB(6) - 9, y2: yB(0) + 11, stroke: '#000', 'stroke-width': 14, 'stroke-linecap': 'round' });
  
  
  bYTicks.forEach(function (t) {
    const tick = shape(root, 'line', { x1: 2342, x2: 2374, y1: yB(t), y2: yB(t), stroke: '#000', 'stroke-width': 12, 'stroke-linecap': 'round' });
    
    
    const lab = shape(root, 'text', { x: 2322, y: yB(t) + 29, 'font-size': 62, 'font-weight': 'bold', 'text-anchor': 'end' });
    lab.textContent = t;
    
    
  });
  const yTitle = shape(root, 'text', { transform: 'translate(2225,1666) rotate(-90)', 'font-size': 72, 'font-weight': 'bold', textLength: 1176 });
  yTitle.textContent = 'Mechanical threshold (g)';
  
  
}

// ---- Panels D and F ----
function xD(i) { return 2444 + i * 229.7; }
function yD(v) { return 2756 - v * 4.1; }
function xF(i) { return 2444 + i * 227.5; }
function yF(v) { return 3810 - v * 4.447; }

function drawGaitBars(rootId, key, cats, vals, tops, fills, ticks, xf, yf, axisX, labelY, labelShift) {
  const root = document.getElementById(rootId);
  cats.forEach(function (c, i) {
    const stem = shape(root, 'line', { x1: xf(i), x2: xf(i), y1: yf(vals[i]), y2: yf(tops[i]), stroke: '#000', 'stroke-width': 11 });
    
    
    const cap = shape(root, 'line', { x1: xf(i) - 38, x2: xf(i) + 38, y1: yf(tops[i]), y2: yf(tops[i]), stroke: '#000', 'stroke-width': 13, 'stroke-linecap': 'round' });
    
    
    const bar = shape(root, 'rect', { x: xf(i) - 76, y: yf(vals[i]), width: 152, height: yf(0) - yf(vals[i]), fill: fills[i], stroke: '#000', 'stroke-width': 11 });
    
    
    const dash = c === '–';
    const lab = shape(root, 'text', { x: xf(i) - (dash ? 10 : 4), y: labelY, 'font-size': dash ? 104 : 60, 'font-weight': 'bold', 'text-anchor': 'middle', 'letter-spacing': dash ? 0 : 16 });
    lab.textContent = c;
    
    
  });
  const xAxis = shape(root, 'line', { x1: axisX - 35, x2: 3237, y1: yf(0), y2: yf(0), stroke: '#000', 'stroke-width': 15, 'stroke-linecap': 'butt' });
  
  
  const yAxis = shape(root, 'line', { x1: axisX, x2: axisX, y1: yf(150) - 8, y2: yf(0) + 12, stroke: '#000', 'stroke-width': 15, 'stroke-linecap': 'round' });
  
  
  ticks.forEach(function (t) {
    const tick = shape(root, 'line', { x1: axisX - 34, x2: axisX, y1: yf(t), y2: yf(t), stroke: '#000', 'stroke-width': 14, 'stroke-linecap': 'round' });
    
    
    const lab = shape(root, 'text', { x: 2287, y: yf(t) + labelShift, 'font-size': 62, 'font-weight': 'bold', 'text-anchor': 'end', 'letter-spacing': 13 });
    lab.textContent = t;
    
    
  });
}

drawChartA();
drawChartB();
drawGaitBars('chart-d', 'd', dCategories, dValues, dTops, dFills, dYTicks, xD, yD, 2328, 2890, 29);
drawGaitBars('chart-f', 'f', fCategories, fValues, fTops, fFills, fYTicks, xF, yF, 2333, 3944, 32);
</script>
</body>
</html>
